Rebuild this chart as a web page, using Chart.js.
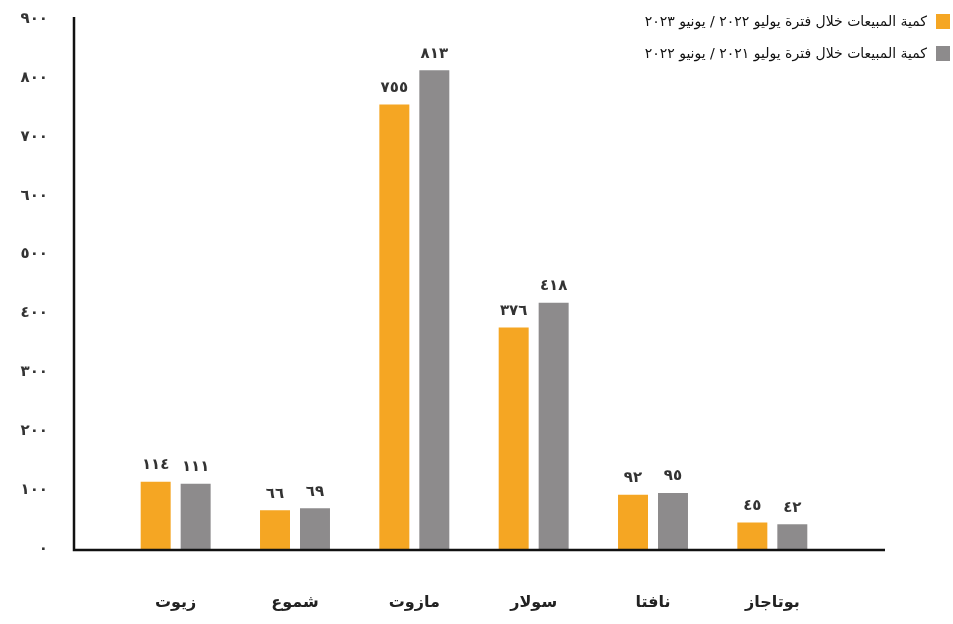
<!DOCTYPE html>
<html lang="ar">
<head>
<meta charset="utf-8">
<title>كمية المبيعات</title>
<script src="https://cdn.jsdelivr.net/npm/chart.js@4.4.0/dist/chart.umd.min.js"></script>
<style>
  body { margin: 0; background: #fff; }
  #wrap { position: relative; width: 953px; height: 624px; }
  #legend {
    position: absolute; right: 3px; top: 5px;
    direction: rtl; font-family: "DejaVu Sans", sans-serif;
    font-size: 14px; color: #111;
  }
  #legend .row { display: flex; align-items: center; height: 32px; white-space: nowrap; }
  #legend .box { width: 14px; height: 15px; margin-left: 9px; flex: none; }
</style>
</head>
<body>
<div id="wrap">
  <canvas id="salesChart" width="953" height="624"></canvas>
  <div id="legend"></div>
</div>
<script>
// sales quantities per product (labels as printed on the chart)
const products = ["زيوت", "شموع", "مازوت", "سولار", "نافتا", "بوتاجاز"];
const sales2223 = [114, 66, 755, 376, 92, 45];
const sales2122 = [111, 69, 813, 418, 95, 42];
const seriesNames = [
  "كمية المبيعات خلال فترة يوليو ٢٠٢٢ / يونيو ٢٠٢٣",
  "كمية المبيعات خلال فترة يوليو ٢٠٢١ / يونيو ٢٠٢٢",
];
const yTicks = [0, 100, 200, 300, 400, 500, 600, 700, 800, 900];

const colors = ["#F5A623", "#8D8B8C"];
const arabicFont = "'DejaVu Sans', sans-serif";

// western digits -> arabic-indic digits
function toArabicDigits(n) {
  const digits = "٠١٢٣٤٥٦٧٨٩";
  return String(n).replace(/[0-9]/g, (d) => digits[d]);
}

// value labels above each bar
const barLabels = {
  id: "barLabels",
  afterDatasetsDraw(chart) {
    const ctx = chart.ctx;
    ctx.save();
    ctx.font = "bold 15px " + arabicFont;
    ctx.fillStyle = "#333";
    ctx.textAlign = "center";
    ctx.textBaseline = "bottom";
    chart.data.datasets.forEach((ds, i) => {
      chart.getDatasetMeta(i).data.forEach((bar, j) => {
        ctx.fillText(toArabicDigits(ds.data[j]), bar.x, bar.y - 9);
      });
    });
    ctx.restore();
  },
};

// the hand drawn axis lines run past the plot area
const axisLines = {
  id: "axisLines",
  afterDraw(chart) {
    const { ctx, chartArea } = chart;
    const x0 = chartArea.left - 42;
    ctx.save();
    ctx.strokeStyle = "#111";
    ctx.lineWidth = 2.5;
    ctx.beginPath();
    ctx.moveTo(x0, chartArea.top - 2);
    ctx.lineTo(x0, chartArea.bottom + 1);
    ctx.lineTo(chartArea.right + 53, chartArea.bottom + 1);
    ctx.stroke();
    ctx.restore();
  },
};

const chart = new Chart(document.getElementById("salesChart"), {
  type: "bar",
  data: {
    labels: products,
    datasets: [
      { label: seriesNames[0], data: sales2223, backgroundColor: colors[0] },
      { label: seriesNames[1], data: sales2122, backgroundColor: colors[1] },
    ],
  },
  options: {
    responsive: false,
    animation: false,
    categoryPercentage: 0.67,
    barPercentage: 0.75,
    layout: { padding: { top: 19, left: 10, right: 121, bottom: 0 } },
    plugins: {
      legend: { display: false },
      tooltip: { enabled: false },
    },
    scales: {
      x: {
        grid: { display: false, drawTicks: false },
        border: { display: false },
        ticks: {
          padding: 44,
          color: "#222",
          font: { family: arabicFont, size: 16, weight: "bold" },
        },
        afterFit: (scale) => { scale.height = 75; },
      },
      y: {
        min: 0,
        max: 900,
        grid: { display: false, drawTicks: false },
        border: { display: false },
        afterBuildTicks: (scale) => { scale.ticks = yTicks.map((v) => ({ value: v })); },
        ticks: {
          padding: 68,
          color: "#333",
          font: { family: arabicFont, size: 15, weight: "bold" },
          callback: (v) => toArabicDigits(v),
        },
        // big tick padding would otherwise also pad top and bottom
        afterFit: (scale) => {
          scale.width = 106;
          scale.paddingTop = 0;
          scale.paddingBottom = 0;
        },
      },
    },
  },
  plugins: [barLabels, axisLines],
});

// legend drawn as html, box on the right like the original
const legendEl = document.getElementById("legend");
chart.data.datasets.forEach((ds) => {
  const row = document.createElement("div");
  row.className = "row";
  const box = document.createElement("span");
  box.className = "box";
  box.style.background = ds.backgroundColor;
  const txt = document.createElement("span");
  txt.textContent = ds.label;
  row.appendChild(box);
  row.appendChild(txt);
  legendEl.appendChild(row);
});
</script>
</body>
</html>
